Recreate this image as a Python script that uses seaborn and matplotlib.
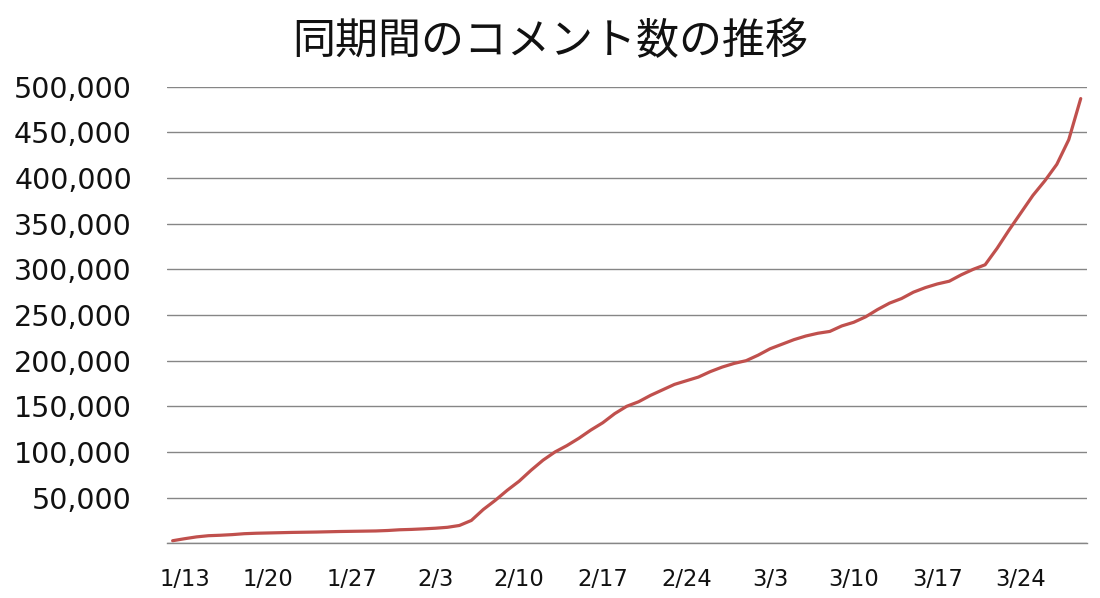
import pandas as pd
import matplotlib
matplotlib.use("Agg")
import matplotlib.pyplot as plt
import seaborn as sns
from matplotlib.ticker import FuncFormatter

# 日別の累計コメント数 (1/12 ～ 3/29)
dates = pd.date_range("2021-01-12", "2021-03-29", freq="D")
comments = [
    2800, 5000, 7000, 8300, 8800, 9500, 10500, 11000, 11300, 11600,
    11900, 12100, 12300, 12600, 12900, 13100, 13300, 13500, 14000, 14800,
    15200, 15800, 16500, 17500, 19500, 25000, 37000, 47000, 58000, 68000,
    80000, 91000, 100000, 107000, 115000, 124000, 132000, 142000, 150000, 155000,
    162000, 168000, 174000, 178000, 182000, 188000, 193000, 197000, 200000, 206000,
    213000, 218000, 223000, 227000, 230000, 232000, 238000, 242000, 248000, 256000,
    263000, 268000, 275000, 280000, 284000, 287000, 294000, 300000, 305000, 323000,
    343000, 362000, 381000, 397000, 415000, 442000, 487000,
]
tick_labels = ["1/13", "1/20", "1/27", "2/3", "2/10", "2/17", "2/24",
               "3/3", "3/10", "3/17", "3/24"]
y_ticks = list(range(0, 500001, 50000))

df = pd.DataFrame({"day": range(len(dates)), "date": dates, "comments": comments})

sns.set_theme(style="white")
plt.rcParams["font.family"] = ["DejaVu Sans", "Noto Sans CJK JP"]

fig = plt.figure(figsize=(11, 5.98), dpi=100)
ax = fig.add_axes([0.1515, 0.0915, 0.8364, 0.7635])

sns.lineplot(data=df, x="day", y="comments", color="#C0504D", linewidth=2.3, ax=ax)

# 目盛り位置は日付ラベルから求める
tick_pos = [df.index[df["date"].dt.strftime("%-m/%-d") == t][0] for t in tick_labels]
ax.set_xticks(tick_pos)
ax.set_xticklabels(tick_labels)
ax.set_xlim(-0.5, len(dates) - 0.5)

ax.set_yticks(y_ticks)
ax.yaxis.set_major_formatter(FuncFormatter(lambda v, p: "" if v == 0 else f"{int(v):,}"))
ax.set_ylim(0, 500000)

ax.grid(axis="y", color="#868686", linewidth=1.0)
ax.set_axisbelow(True)
for s in ["top", "right", "left"]:
    ax.spines[s].set_visible(False)
ax.spines["bottom"].set_color("#868686")
ax.spines["bottom"].set_linewidth(1.0)

ax.tick_params(axis="y", length=0, pad=25, labelsize=20.5, labelcolor="#111111")
ax.tick_params(axis="x", length=0, pad=18, labelsize=16.3, labelcolor="#111111")
ax.set_xlabel("")
ax.set_ylabel("")

fig.suptitle("同期間のコメント数の推移", fontsize=31, y=1 - 42 / 598, va="center",
             family=["Noto Sans CJK JP", "DejaVu Sans"], color="#111111")

fig.savefig("out.png", dpi=100)
